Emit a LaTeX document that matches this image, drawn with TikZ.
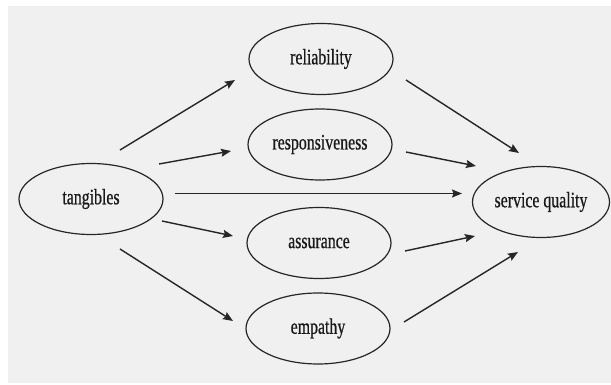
\documentclass[tikz,border=0pt]{standalone}
\usepackage{fontspec}
\setmainfont[FakeStretch=0.72,FakeBold=0.6]{Liberation Serif}
\usetikzlibrary{shapes.geometric,arrows.meta,calc}
\definecolor{paper}{HTML}{F0F0F0}
\begin{document}
\begin{tikzpicture}[x=1pt,y=-1pt,
  oval/.style={draw=black!85, line width=1.2pt, ellipse, minimum width=144pt, minimum height=71pt, inner sep=0pt, font=\fontsize{22}{26}\selectfont, text=black!90},
  link/.style={line width=1.4pt, black!85, -{Stealth[length=10pt,width=8pt,inset=1.5pt]}}]
\useasboundingbox (0,0) rectangle (611,385);
\fill[white] (0,0) rectangle (611,385);
\fill[paper] (8,6) rectangle (611,383);
\node[oval] (t) at (91,199) {tangibles};
\node[oval] (rel) at (321,59) {reliability};
\node[oval] (resp) at (320,144.5) {responsiveness};
\node[oval] (as) at (319,243) {assurance};
\node[oval] (emp) at (318,328.5) {empathy};
\node[oval, minimum width=137pt] (sq) at (541,202) {service quality};
\draw[link] ($(t)+(29,-49)$) -- ($(rel)+(-86,21)$);
\draw[link] ($(t)+(68,-35)$) -- ($(resp)+(-89,6.5)$);
\draw[link] ($(t)+(84,-5.5)$) -- ($(sq)+(-79,-8.5)$);
\draw[link] ($(t)+(71,22)$) -- ($(as)+(-86,-7)$);
\draw[link] ($(t)+(29,50)$) -- ($(emp)+(-85,-7.5)$);
\draw[link] ($(rel)+(85,21)$) -- ($(sq)+(-22,-49)$);
\draw[link] ($(resp)+(86,7.5)$) -- ($(sq)+(-65,-36)$);
\draw[link] ($(as)+(86,8)$) -- ($(sq)+(-66,34)$);
\draw[link] ($(emp)+(86,-6.5)$) -- ($(sq)+(-23,50)$);
\end{tikzpicture}
\end{document}
